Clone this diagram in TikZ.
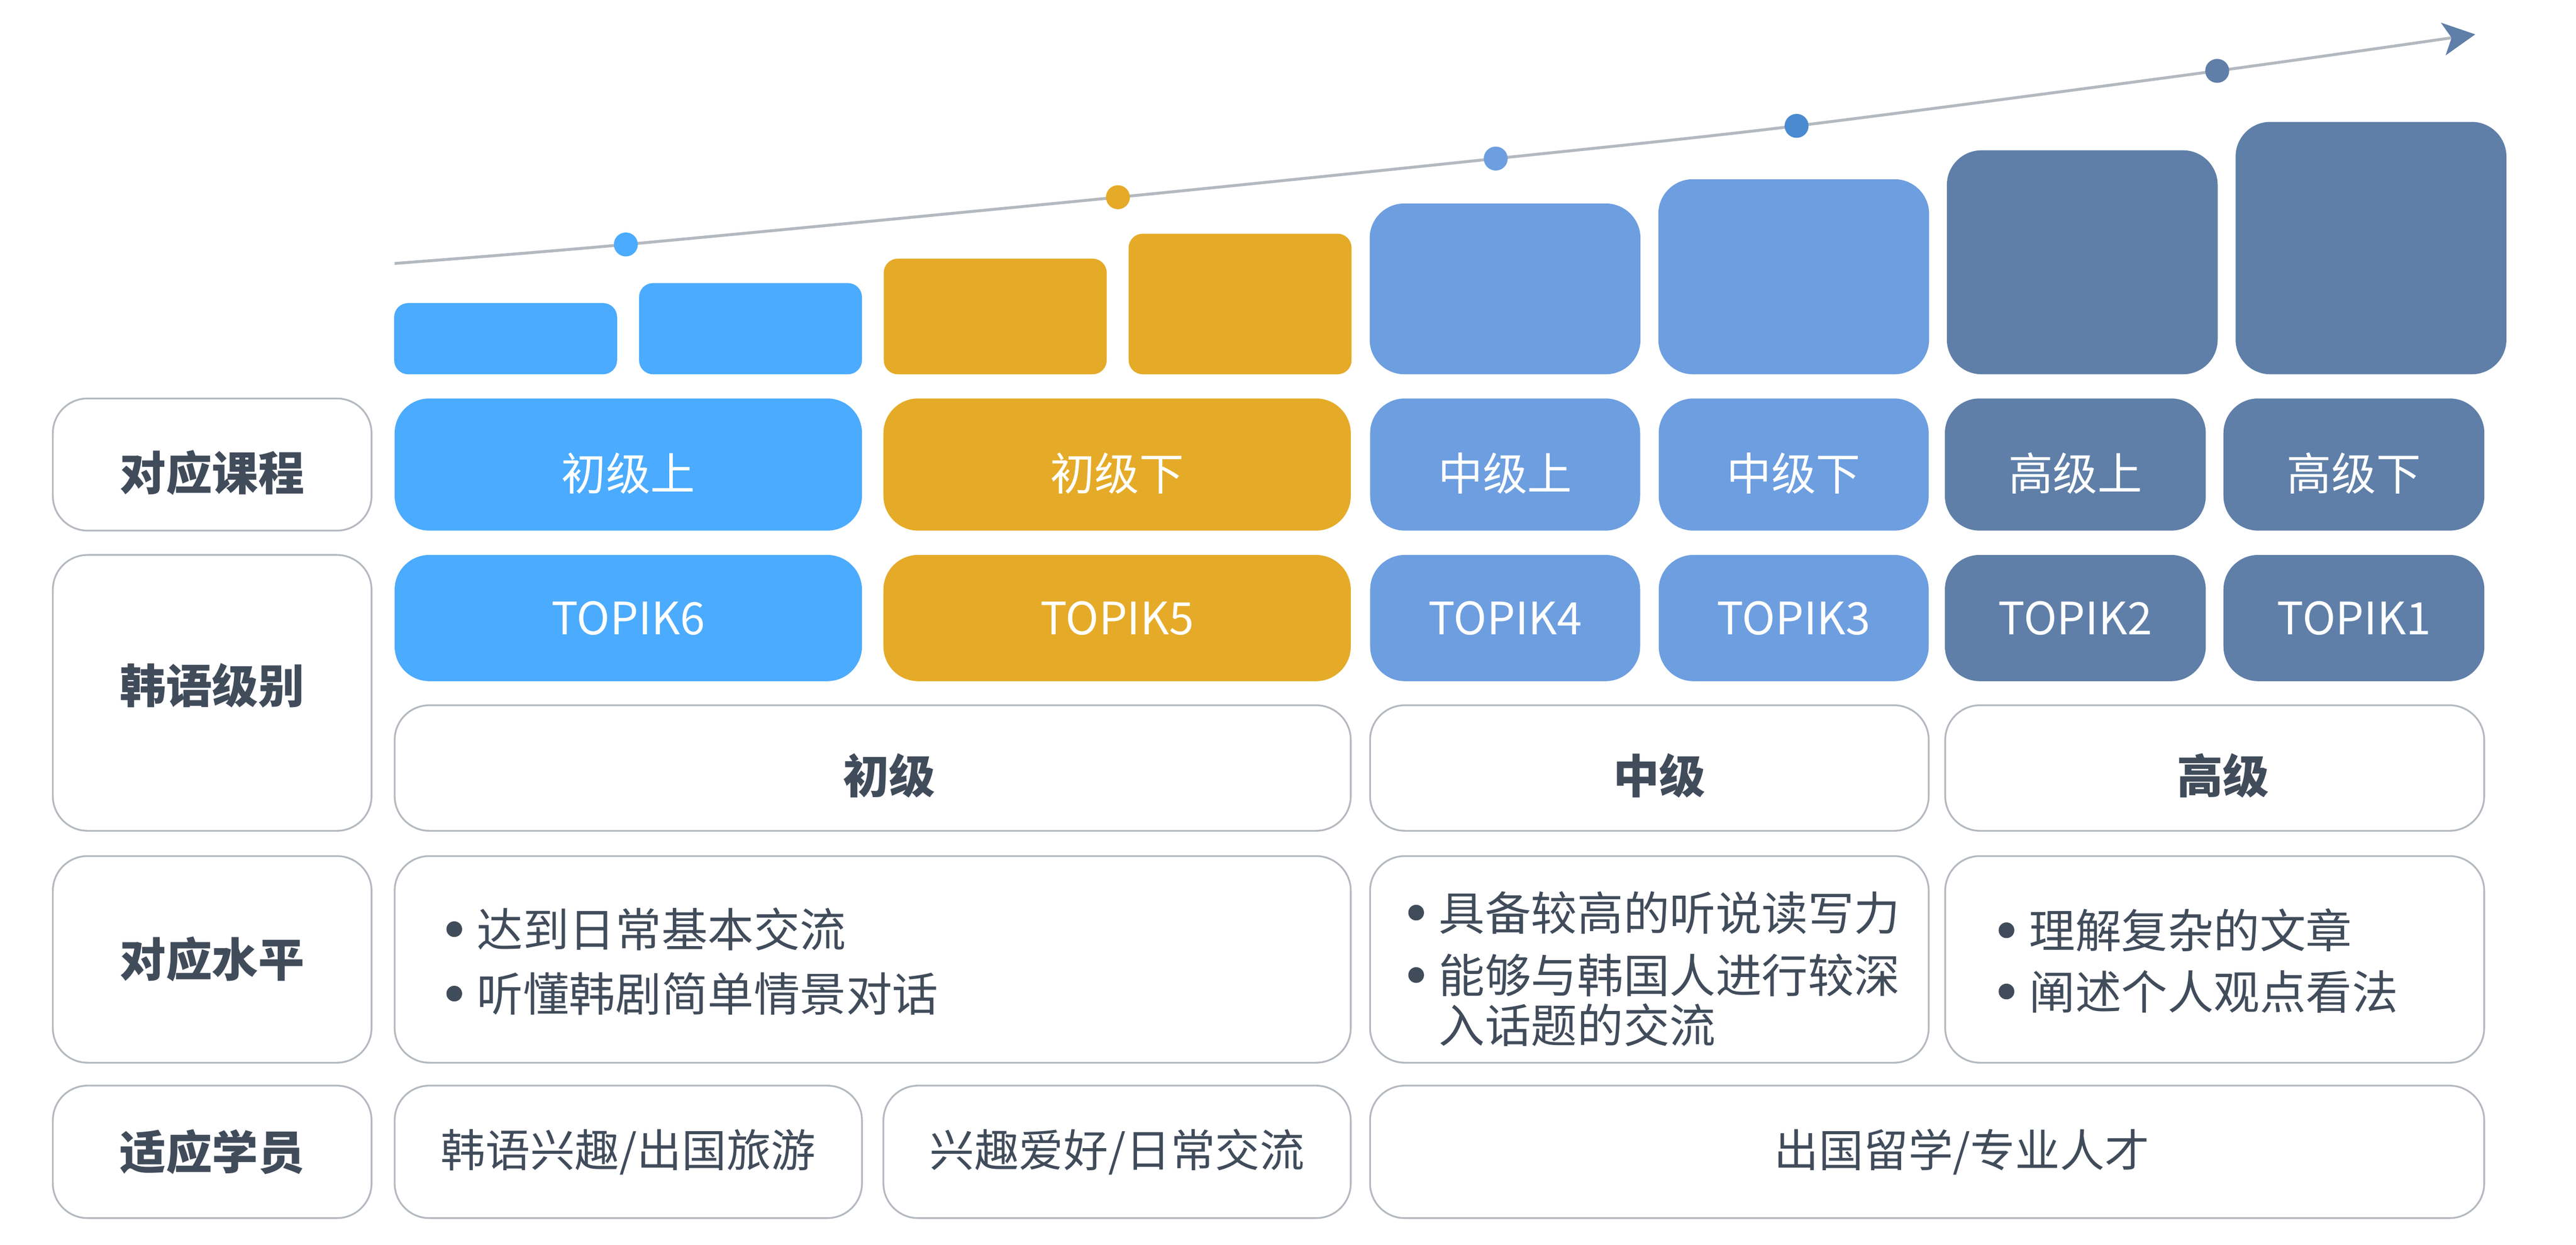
\documentclass[tikz,border=0pt]{standalone}
\usepackage{fontspec}
\setmainfont{Noto Sans CJK SC}
\usepackage{tikz}
\usetikzlibrary{shapes,arrows.meta,positioning,backgrounds}
\definecolor{cblue}{HTML}{4BABFE}
\definecolor{cgold}{HTML}{E5AB28}
\definecolor{cmid}{HTML}{6D9EE0}
\definecolor{cdeep}{HTML}{4A8BD0}
\definecolor{cslate}{HTML}{5F7FA8}
\definecolor{cline}{HTML}{B4B9C0}
\definecolor{ctext}{HTML}{414C5B}
\tikzstyle{bar} = [rectangle, inner sep=0pt, minimum width=27mm, rounded corners=1.7mm]
\tikzstyle{tallbar} = [rectangle, inner sep=0pt, minimum width=32.8mm, rounded corners=4.2mm]
\tikzstyle{cell} = [rectangle, inner sep=0pt, rounded corners=4.2mm, text=white, font=\fontsize{15.4pt}{18pt}\selectfont]
\tikzstyle{low} = [text height=6.3mm, text depth=0mm]
\tikzstyle{frame} = [cell, draw=cline, line width=0.6pt, text=ctext]
\tikzstyle{head} = [frame, minimum width=38.6mm, font=\fontsize{15.9pt}{18pt}\selectfont\bfseries]
\tikzstyle{grade} = [text=ctext, font=\fontsize{15.9pt}{18pt}\selectfont\bfseries]
\tikzstyle{note} = [anchor=west, align=left, inner sep=0pt, text=ctext, font=\fontsize{15.9pt}{17.3pt}\selectfont]
\tikzstyle{dotn} = [circle, inner sep=0pt, minimum size=2.9mm]
\tikzstyle{line} = [draw=cline, line width=1pt]
\newcommand{\bul}{\makebox[3.7mm][l]{\tikz[baseline=-0.38em] \fill[ctext] (0,0) circle (0.95mm);}}
\newcommand{\bulsp}{\hspace*{3.7mm}}

\begin{document}
\begin{tikzpicture}[x=0.2mm, y=-0.2mm]
			\useasboundingbox (0, 0) rectangle (1560, 753.7);

			% growth curve
			\coordinate (a0) at (239, 159.5);
			\coordinate (a1) at (1499, 20.8);
			\node [dotn, fill=cblue] (d1) at (379, 148) {};
			\node [dotn, fill=cgold] (d2) at (677, 119.4) {};
			\node [dotn, fill=cmid] (d3) at (905.8, 96) {};
			\node [dotn, fill=cdeep] (d4) at (1088, 76.2) {};
			\node [dotn, fill=cslate] (d5) at (1342.7, 42.9) {};
			\begin{pgfonlayer}{background}
			\path [line, -{Stealth[length=3.9mm, width=3.96mm, inset=1mm, color=cslate]}] plot [smooth, tension=0.5] coordinates {(a0) (d1.center) (d2.center) (d3.center) (d4.center) (d5.center) (a1)};
			\end{pgfonlayer}

			% bars
			\node [bar, fill=cblue, minimum height=8.62mm] (b1) at (306.2, 205.05) {};
			\node [bar, fill=cblue, minimum height=11.04mm] (b2) at (454.5, 199) {};
			\node [bar, fill=cgold, minimum height=14mm] (b3) at (602.7, 191.6) {};
			\node [bar, fill=cgold, minimum height=17.02mm] (b4) at (751, 184.05) {};
			\node [tallbar, fill=cmid, minimum height=20.68mm] (b5) at (911.45, 174.9) {};
			\node [tallbar, fill=cmid, minimum height=23.62mm] (b6) at (1086.25, 167.55) {};
			\node [tallbar, fill=cslate, minimum height=27.12mm] (b7) at (1261, 158.8) {};
			\node [tallbar, fill=cslate, minimum height=30.56mm] (b8) at (1435.85, 150.2) {};

			% row headers
			\node [head, low, minimum height=16mm] (h1) at (128.5, 281.25) {对应课程};
			\node [head, text height=4.6mm, text depth=2.1mm, minimum height=33.4mm] (h2) at (128.5, 419.5) {韩语级别};
			\node [head, minimum height=25.02mm] (h3) at (128.5, 580.85) {对应水平};
			\node [head, minimum height=16.04mm] (h4) at (128.5, 697.4) {适应学员};

			% courses
			\node [cell, low, fill=cblue, minimum width=56.6mm, minimum height=16mm] (k1) at (380.5, 281.25) {初级上};
			\node [cell, low, fill=cgold, minimum width=56.6mm, minimum height=16mm] (k2) at (676.5, 281.25) {初级下};
			\node [cell, low, fill=cmid, minimum width=32.7mm, minimum height=16mm] (k3) at (911.5, 281.25) {中级上};
			\node [cell, low, fill=cmid, minimum width=32.7mm, minimum height=16mm] (k4) at (1086.25, 281.25) {中级下};
			\node [cell, low, fill=cslate, minimum width=31.6mm, minimum height=16mm] (k5) at (1256.8, 281.25) {高级上};
			\node [cell, low, fill=cslate, minimum width=31.6mm, minimum height=16mm] (k6) at (1425.5, 281.25) {高级下};

			% TOPIK levels
			\node [cell, fill=cblue, minimum width=56.6mm, minimum height=15.28mm] (t6) at (380.5, 374.2) {TOPIK6};
			\node [cell, fill=cgold, minimum width=56.6mm, minimum height=15.28mm] (t5) at (676.5, 374.2) {TOPIK5};
			\node [cell, fill=cmid, minimum width=32.7mm, minimum height=15.28mm] (t4) at (911.5, 374.2) {TOPIK4};
			\node [cell, fill=cmid, minimum width=32.7mm, minimum height=15.28mm] (t3) at (1086.25, 374.2) {TOPIK3};
			\node [cell, fill=cslate, minimum width=31.6mm, minimum height=15.28mm] (t2) at (1256.8, 374.2) {TOPIK2};
			\node [cell, fill=cslate, minimum width=31.6mm, minimum height=15.28mm] (t1) at (1425.5, 374.2) {TOPIK1};

			% grades
			\node [frame, minimum width=115.8mm, minimum height=15.2mm, label={[grade, xshift=2mm, yshift=-0.9mm]center:初级}] (g1) at (528.5, 465) {};
			\node [frame, minimum width=67.66mm, minimum height=15.2mm, label={[grade, xshift=1.2mm, yshift=-0.9mm]center:中级}] (g2) at (998.85, 465) {};
			\node [frame, minimum width=65.28mm, minimum height=15.2mm, label={[grade, xshift=1mm, yshift=-0.9mm]center:高级}] (g3) at (1341.2, 465) {};

			% levels
			\node [frame, minimum width=115.8mm, minimum height=25.02mm] (v1) at (528.5, 580.85) {};
			\node [frame, minimum width=67.66mm, minimum height=25.02mm] (v2) at (998.85, 580.85) {};
			\node [frame, minimum width=65.28mm, minimum height=25.02mm] (v3) at (1341.2, 580.85) {};
			\node [note] (n1) at (270, 582) {\bul 达到日常基本交流\\[4.9pt]\bul 听懂韩剧简单情景对话};
			\node [note] (n2) at (852.5, 586.6) {\bul 具备较高的听说读写力\\[4.2pt]\bul 能够与韩国人进行较深\\\bulsp 入话题的交流};
			\node [note] (n3) at (1210, 581.6) {\bul 理解复杂的文章\\[3.8pt]\bul 阐述个人观点看法};

			% students
			\node [frame, minimum width=56.6mm, minimum height=16.04mm] (s1) at (380.5, 697.4) {韩语兴趣/出国旅游};
			\node [frame, minimum width=56.6mm, minimum height=16.04mm] (s2) at (676.5, 697.4) {兴趣爱好/日常交流};
			\node [frame, minimum width=134.94mm, minimum height=16.04mm, label={[xshift=4.2mm, text=ctext, font=\fontsize{15.4pt}{18pt}\selectfont]center:出国留学/专业人才}] (s3) at (1167.05, 697.4) {};
		\end{tikzpicture}
\end{document}
